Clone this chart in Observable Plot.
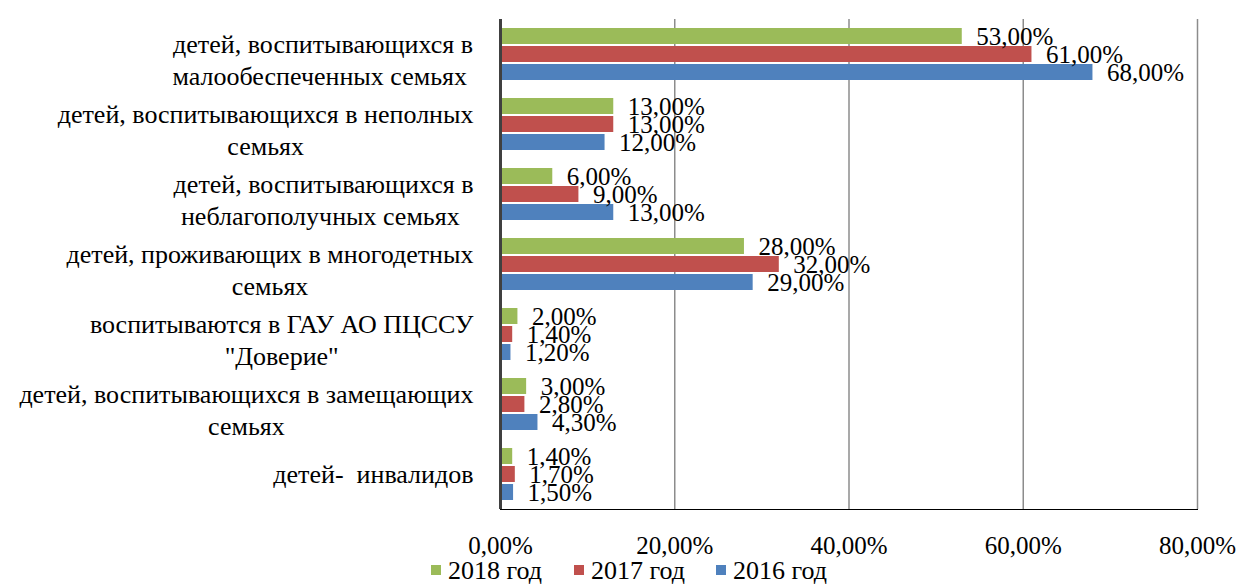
<!DOCTYPE html>
<html>
<head>
<meta charset="utf-8">
<script src="https://cdn.jsdelivr.net/npm/d3@7"></script>
<script src="https://cdn.jsdelivr.net/npm/@observablehq/plot@0.6"></script>
<style>
  html, body { margin: 0; padding: 0; background: #fff; }
  body { width: 1242px; height: 584px; overflow: hidden; font-family: 'Liberation Serif', serif; }
  #chart { height: 560px; }
  #chart svg, #chart svg text, #chart svg g { font-family: 'Liberation Serif', serif !important; }
  #legend { position: relative; height: 24px; font-family: 'Liberation Serif', serif; font-size: 26px; line-height: 26px; color: #000; }
  #legend .item { position: absolute; top: -2px; white-space: nowrap; }
  #legend .sw { position: absolute; width: 10px; height: 10px; top: 7px; left: 0; }
  #legend .lab { position: absolute; left: 17px; top: 0; }
</style>
</head>
<body>
<div id="chart"></div>
<div id="legend"></div>
<script>
// ---- data ----
const categories = [
  "детей, воспитывающихся в\nмалообеспеченных семьях ",
  "детей, воспитывающихся в неполных\nсемьях",
  "детей, воспитывающихся в\nнеблагополучных семьях ",
  "детей, проживающих в многодетных\nсемьях",
  "воспитываются в ГАУ АО ПЦССУ\n\"Доверие\"",
  "детей, воспитывающихся в замещающих\nсемьях",
  "детей-  инвалидов"
];
const years = ["2018 год", "2017 год", "2016 год"];
const values2018 = [53, 13, 6, 28, 2, 3, 1.4];
const values2017 = [61, 13, 9, 32, 1.4, 2.8, 1.7];
const values2016 = [68, 12, 13, 29, 1.2, 4.3, 1.5];
const xTicks = [0, 20, 40, 60, 80];
const colors = ["#9BBB59", "#C0504D", "#4F81BD"];

const series = [values2018, values2017, values2016];
const rows = [];
categories.forEach((c, i) => {
  years.forEach((y, j) => rows.push({cat: c, year: y, v: series[j][i]}));
});

const fmt = v => v.toFixed(2).replace(".", ",") + "%";
const FONT = "Liberation Serif";
const isMulti = d => d.cat.includes("\n");

const plot = Plot.plot({
  width: 1242,
  height: 560,
  marginLeft: 500,
  marginRight: 45,
  marginTop: 18,
  marginBottom: 50,
  style: {fontSize: "25px", color: "#000", background: "#fff", overflow: "visible"},
  facet: {data: rows, y: "cat", label: null},
  fy: {domain: categories, axis: null, paddingInner: 0, paddingOuter: 0},
  x: {domain: [0, 80], ticks: xTicks, tickFormat: fmt, tickSize: 0, tickPadding: 27, label: null, line: true},
  y: {domain: years, axis: null, paddingInner: 0.1, paddingOuter: 0.4},
  color: {domain: years, range: colors},
  marks: [
    Plot.ruleX([20, 40, 60, 80], {stroke: "#8c8c8c", strokeWidth: 1.5}),
    Plot.barX(rows, {x: "v", y: "year", fill: "year"}),
    Plot.ruleX([0], {stroke: "#404040", strokeWidth: 3}),
    Plot.text(rows, {x: "v", y: "year", text: d => fmt(d.v), textAnchor: "start", dx: 14, fill: "#000", fontFamily: FONT, fontSize: 25}),
    Plot.text(rows, {filter: d => d.year === years[1] && isMulti(d), y: "year", text: "cat", frameAnchor: "left", textAnchor: "end", dx: -27, dy: 4, lineHeight: 1.25, fill: "#000", fontFamily: FONT, fontSize: 26}),
    Plot.text(rows, {filter: d => d.year === years[1] && !isMulti(d), y: "year", text: "cat", frameAnchor: "left", textAnchor: "end", dx: -27, fill: "#000", fontFamily: FONT, fontSize: 26})
  ]
});
document.getElementById("chart").appendChild(plot);

// center multi-line category labels within their block (right edge fixed)
plot.querySelectorAll("text").forEach(t => {
  const spans = t.querySelectorAll("tspan");
  if (spans.length < 2) return;
  let maxW = 0;
  spans.forEach(s => { maxW = Math.max(maxW, s.getComputedTextLength()); });
  t.setAttribute("text-anchor", "middle");
  t.style.textAnchor = "middle";
  spans.forEach(s => {
    s.setAttribute("x", String(-maxW / 2));
    s.setAttribute("text-anchor", "middle");
  });
});

// legend
const legendLeft = [431, 574, 716];
const legend = document.getElementById("legend");
years.forEach((y, j) => {
  const item = document.createElement("div");
  item.className = "item";
  item.style.left = legendLeft[j] + "px";
  const sw = document.createElement("div");
  sw.className = "sw";
  sw.style.background = colors[j];
  const lab = document.createElement("span");
  lab.className = "lab";
  lab.textContent = y;
  item.appendChild(sw);
  item.appendChild(lab);
  legend.appendChild(item);
});
</script>
</body>
</html>
